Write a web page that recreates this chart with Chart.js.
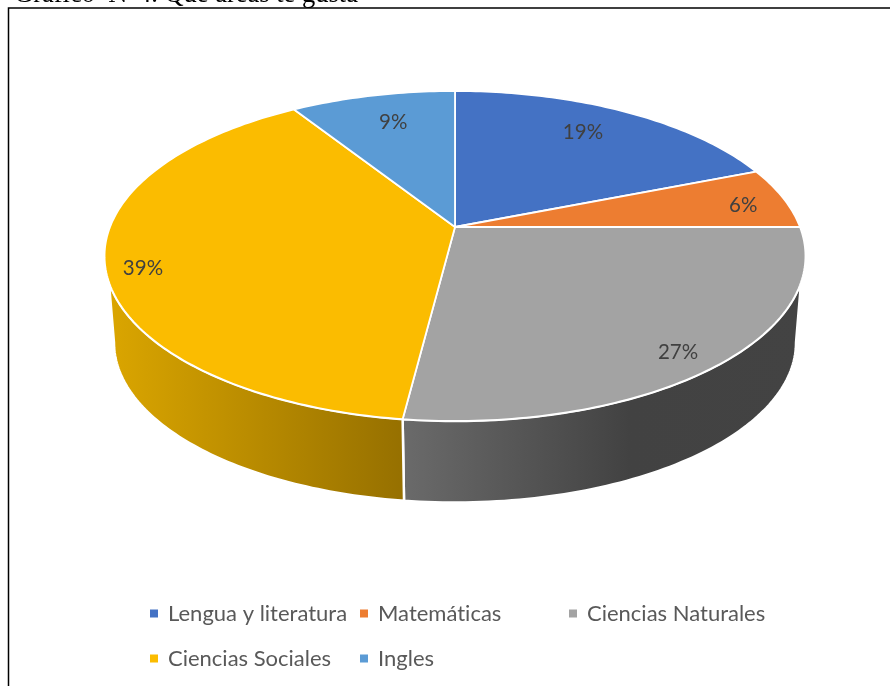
<!DOCTYPE html>
<html>
<head>
<meta charset="utf-8">
<style>html,body{margin:0;padding:0;background:#fff;overflow:hidden}canvas{display:block}</style>
<script src="https://cdn.jsdelivr.net/npm/chart.js@4/dist/chart.umd.js"></script>
</head>
<body>
<canvas id="c" width="890" height="686"></canvas>
<script>
const categories = ['Lengua y literatura', 'Matemáticas', 'Ciencias Naturales', 'Ciencias Sociales', 'Ingles'];
const shares = [19, 6, 27, 39, 9];
const sliceColors = ['#4472C4', '#ED7D31', '#A3A3A3', '#FBBC00', '#5B9BD5'];
const figureCaption = 'Gráfico  N°4. Qué áreas te gusta';

// perspective disc: maps a rim/inner point (u,v on the unit circle) to the page
const top3d = {cx: 455, cy: 227, a: 345, b: 159.9, w: -0.1758};
const low3d = {cx: 455, cy: 314.5, a: 335.7, b: 155, w: -0.1758};
function project(p, u, v) {
  const d = 1 + p.w * v;
  return [p.cx + p.a * u / d, p.cy + p.b * v / d];
}
function rim(p, th, r) {
  r = r === undefined ? 1 : r;
  return project(p, r * Math.sin(th), -r * Math.cos(th));
}
const deg = Math.PI / 180;
const sideTop = [108.9 * deg, 251.1 * deg];
const sideLow = [100.1 * deg, 259.9 * deg];
const sideFills = {
  2: [[405, '#6A6A6A'], [630, '#424242'], [805, '#434343']],
  3: [[107, '#DBA600'], [403, '#967000']]
};
const labelPlace = [[.73, -7], [.875, 4], [.866, 8], [.895, 9], [.72, -6]];
const legendSlots = [[150, 613.5], [360, 613.5], [569, 613.5], [150, 658.5], [360, 658.5]];

const perspectivePie = {
  id: 'perspectivePie',
  beforeDatasetsDraw(chart) {
    const ctx = chart.ctx;
    const arcs = chart.getDatasetMeta(0).data;
    const thetas = arcs.map(a => [a.startAngle + Math.PI / 2, a.endAngle + Math.PI / 2]);
    ctx.save();
    ctx.lineJoin = 'round';
    // side wall
    thetas.forEach(([s, e], i) => {
      const s1 = Math.max(s, sideTop[0]), e1 = Math.min(e, sideTop[1]);
      const s2 = Math.max(s, sideLow[0]), e2 = Math.min(e, sideLow[1]);
      if (e1 <= s1 || !sideFills[i]) return;
      ctx.beginPath();
      for (let k = 0; k <= 80; k++) {
        const pt = rim(top3d, s1 + (e1 - s1) * k / 80);
        k ? ctx.lineTo(pt[0], pt[1]) : ctx.moveTo(pt[0], pt[1]);
      }
      for (let k = 80; k >= 0; k--) {
        const pt = rim(low3d, s2 + (e2 - s2) * k / 80);
        ctx.lineTo(pt[0], pt[1]);
      }
      ctx.closePath();
      const stops = sideFills[i];
      const x0 = stops[0][0], x1 = stops[stops.length - 1][0];
      const g = ctx.createLinearGradient(x0, 0, x1, 0);
      stops.forEach(st => g.addColorStop((st[0] - x0) / (x1 - x0), st[1]));
      ctx.fillStyle = g;
      ctx.strokeStyle = '#fff';
      ctx.lineWidth = 2.5;
      ctx.fill();
      ctx.stroke();
    });
    // top surface
    thetas.forEach(([s, e], i) => {
      ctx.beginPath();
      ctx.moveTo(top3d.cx, top3d.cy);
      const n = Math.max(8, Math.round((e - s) / deg));
      for (let k = 0; k <= n; k++) {
        const pt = rim(top3d, s + (e - s) * k / n);
        ctx.lineTo(pt[0], pt[1]);
      }
      ctx.closePath();
      ctx.fillStyle = arcs[i].options.backgroundColor;
      ctx.strokeStyle = '#fff';
      ctx.lineWidth = 1.8;
      ctx.fill();
      ctx.stroke();
    });
    // value labels
    ctx.font = '20.5px Lato';
    ctx.fillStyle = '#404040';
    ctx.textAlign = 'center';
    ctx.textBaseline = 'middle';
    thetas.forEach(([s, e], i) => {
      const pl = labelPlace[i];
      const pt = rim(top3d, (s + e) / 2, pl[0]);
      ctx.fillText(shares[i] + '%', pt[0], pt[1] + pl[1]);
    });
    ctx.restore();
    return false;
  },
  afterDraw(chart) {
    const ctx = chart.ctx;
    ctx.save();
    // frame and caption
    ctx.strokeStyle = '#000';
    ctx.lineWidth = 1.5;
    ctx.beginPath();
    ctx.moveTo(8.5, 690);
    ctx.lineTo(8.5, 8);
    ctx.lineTo(892, 8);
    ctx.stroke();
    ctx.font = '26.5px "Liberation Serif"';
    ctx.fillStyle = '#000';
    ctx.textAlign = 'left';
    ctx.textBaseline = 'alphabetic';
    ctx.fillText(figureCaption, 14, 2);
    // legend
    ctx.font = '22px Lato';
    ctx.textRendering = 'optimizeSpeed';
    ctx.textBaseline = 'middle';
    categories.forEach((name, i) => {
      const [x, y] = legendSlots[i];
      ctx.fillStyle = sliceColors[i];
      ctx.fillRect(x, y - 4, 8, 8);
      ctx.fillStyle = '#595959';
      ctx.fillText(name, x + 18, y);
    });
    ctx.restore();
  }
};

new Chart(document.getElementById('c'), {
  type: 'pie',
  data: {
    labels: categories,
    datasets: [{data: shares, backgroundColor: sliceColors, borderColor: '#fff'}]
  },
  options: {
    responsive: false,
    animation: false,
    plugins: {legend: {display: false}, tooltip: {enabled: false}, title: {display: false}}
  },
  plugins: [perspectivePie]
});
</script>
</body>
</html>
